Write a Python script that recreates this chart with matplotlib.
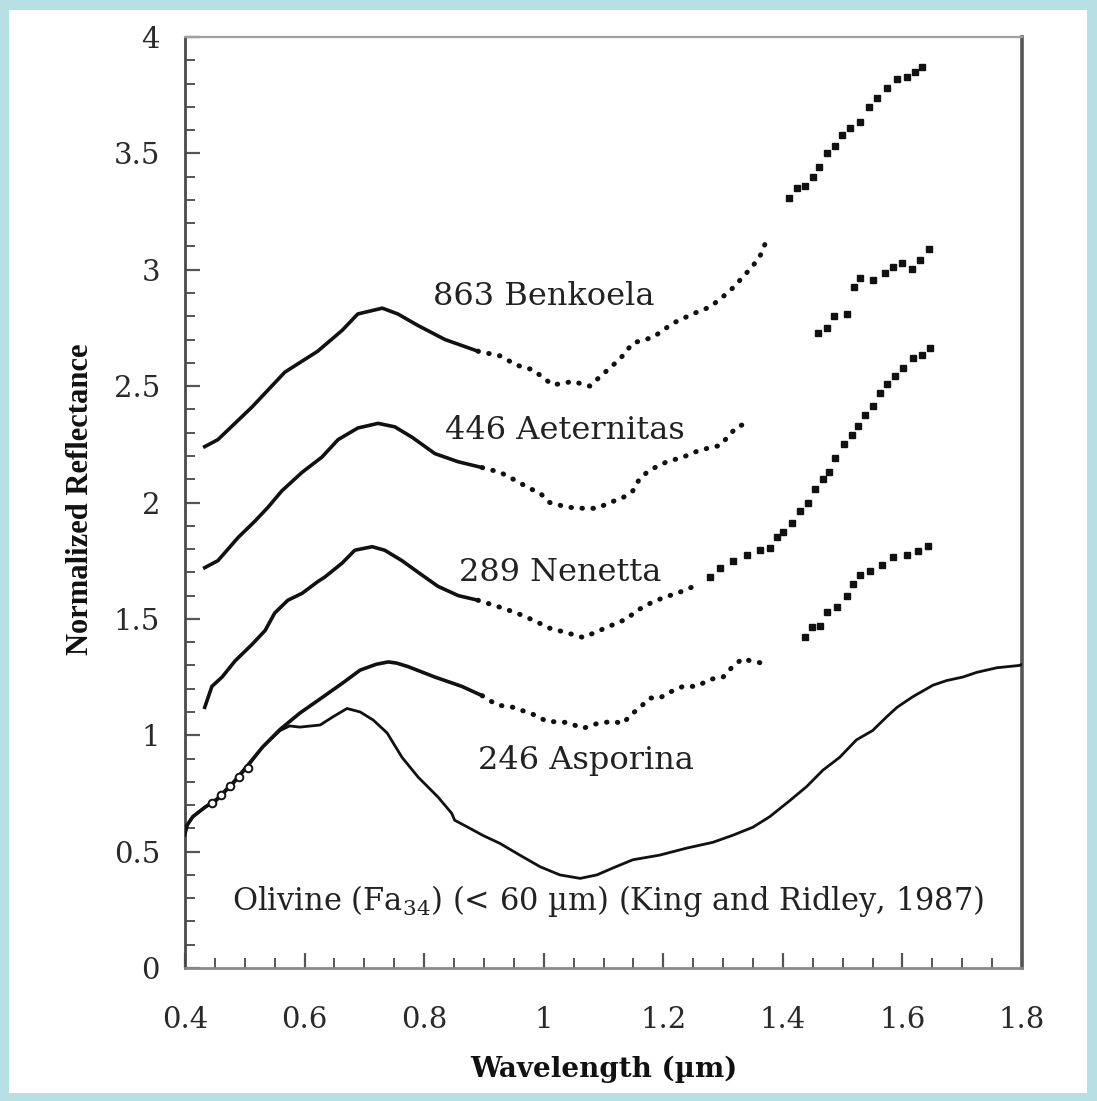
import matplotlib
matplotlib.use("Agg")
import matplotlib.pyplot as plt
from matplotlib.patches import Rectangle
from matplotlib.ticker import MultipleLocator, FixedLocator
import numpy as np

# ---------------- data ----------------
olivine_wl = [0.400, 0.405, 0.413, 0.433, 0.453, 0.480, 0.503, 0.530, 0.559, 0.575,
              0.592, 0.626, 0.648, 0.671, 0.693, 0.715, 0.738, 0.763, 0.790, 0.823,
              0.846, 0.851, 0.873, 0.898, 0.927, 0.960, 0.994, 1.027, 1.061, 1.089,
              1.116, 1.149, 1.194, 1.239, 1.283, 1.316, 1.350, 1.378, 1.412, 1.440,
              1.467, 1.495, 1.523, 1.550, 1.574, 1.591, 1.617, 1.651, 1.674, 1.701,
              1.724, 1.758, 1.796, 1.800]
olivine_r = [0.57, 0.62, 0.65, 0.69, 0.72, 0.79, 0.86, 0.95, 1.02, 1.04,
             1.035, 1.044, 1.08, 1.115, 1.10, 1.065, 1.01, 0.905, 0.82, 0.735,
             0.665, 0.635, 0.605, 0.57, 0.535, 0.485, 0.435, 0.40, 0.385, 0.40,
             0.43, 0.465, 0.485, 0.515, 0.54, 0.57, 0.605, 0.65, 0.72, 0.78,
             0.85, 0.905, 0.98, 1.02, 1.08, 1.12, 1.165, 1.215, 1.235, 1.25,
             1.27, 1.29, 1.30, 1.305]

asporina_wl = [0.400, 0.413, 0.433, 0.453, 0.480, 0.503, 0.530, 0.559, 0.592, 0.631,
               0.664, 0.693, 0.720, 0.740, 0.754, 0.773, 0.788, 0.818, 0.863, 0.897,
               0.922, 0.949, 0.982, 1.005, 1.039, 1.066, 1.089, 1.116, 1.132, 1.147,
               1.161, 1.178, 1.194, 1.211, 1.233, 1.256, 1.278, 1.300, 1.316, 1.333,
               1.345, 1.365]
asporina_r = [0.60, 0.65, 0.69, 0.725, 0.795, 0.865, 0.95, 1.025, 1.095, 1.165,
              1.225, 1.28, 1.305, 1.315, 1.31, 1.295, 1.28, 1.25, 1.21, 1.17,
              1.13, 1.12, 1.09, 1.06, 1.055, 1.03, 1.05, 1.06, 1.05, 1.09,
              1.12, 1.16, 1.16, 1.185, 1.21, 1.21, 1.24, 1.25, 1.295, 1.33,
              1.32, 1.31]
asporina_ir_wl = [1.437, 1.448, 1.462, 1.474, 1.490, 1.507, 1.517, 1.529, 1.545, 1.565,
                  1.584, 1.607, 1.626, 1.643]
asporina_ir_r = [1.42, 1.465, 1.47, 1.53, 1.55, 1.60, 1.65, 1.69, 1.705, 1.73,
                 1.765, 1.775, 1.79, 1.815]
asporina_circ_wl = [0.445, 0.460, 0.475, 0.490, 0.505]
asporina_circ_r = [0.71, 0.745, 0.78, 0.82, 0.86]

nenetta_wl = [0.433, 0.445, 0.462, 0.484, 0.512, 0.534, 0.550, 0.572, 0.596, 0.622,
              0.634, 0.663, 0.684, 0.713, 0.734, 0.763, 0.790, 0.823, 0.857, 0.890,
              0.927, 0.955, 0.982, 1.010, 1.039, 1.066, 1.089, 1.116, 1.139, 1.153,
              1.172, 1.199, 1.228, 1.256]
nenetta_r = [1.12, 1.21, 1.25, 1.32, 1.39, 1.45, 1.525, 1.58, 1.61, 1.66,
             1.68, 1.74, 1.795, 1.81, 1.795, 1.75, 1.70, 1.64, 1.60, 1.58,
             1.55, 1.525, 1.495, 1.46, 1.44, 1.42, 1.445, 1.475, 1.50, 1.53,
             1.56, 1.59, 1.615, 1.645]
nenetta_ir_wl = [1.278, 1.295, 1.316, 1.340, 1.362, 1.378, 1.390, 1.400, 1.415, 1.428,
                 1.442, 1.453, 1.467, 1.478, 1.488, 1.503, 1.516, 1.525, 1.537, 1.550,
                 1.562, 1.574, 1.587, 1.601, 1.617, 1.632, 1.646]
nenetta_ir_r = [1.68, 1.72, 1.75, 1.775, 1.795, 1.805, 1.85, 1.875, 1.91, 1.965,
                2.00, 2.06, 2.10, 2.13, 2.19, 2.25, 2.29, 2.33, 2.375, 2.415,
                2.47, 2.51, 2.545, 2.58, 2.62, 2.635, 2.665]

aeternitas_wl = [0.433, 0.455, 0.489, 0.517, 0.539, 0.562, 0.596, 0.629, 0.656, 0.689,
                 0.723, 0.751, 0.780, 0.818, 0.857, 0.897, 0.927, 0.949, 0.977, 0.994,
                 1.010, 1.039, 1.066, 1.089, 1.111, 1.132, 1.149, 1.161, 1.178, 1.206,
                 1.233, 1.261, 1.295, 1.323, 1.345]
aeternitas_r = [1.72, 1.75, 1.85, 1.92, 1.98, 2.05, 2.13, 2.195, 2.27, 2.32,
                2.34, 2.325, 2.28, 2.21, 2.175, 2.15, 2.13, 2.10, 2.06, 2.04,
                2.00, 1.98, 1.975, 1.975, 2.00, 2.02, 2.05, 2.105, 2.14, 2.175,
                2.195, 2.225, 2.245, 2.325, 2.345]
aeternitas_ir_wl = [1.459, 1.474, 1.485, 1.507, 1.519, 1.529, 1.551, 1.571, 1.584, 1.599,
                    1.616, 1.629, 1.644]
aeternitas_ir_r = [2.73, 2.75, 2.80, 2.81, 2.925, 2.965, 2.955, 2.985, 3.01, 3.03,
                   3.005, 3.04, 3.09]

benkoela_wl = [0.433, 0.455, 0.512, 0.567, 0.622, 0.663, 0.689, 0.730, 0.756, 0.790,
               0.835, 0.890, 0.927, 0.955, 0.982, 1.015, 1.049, 1.077, 1.094, 1.116,
               1.132, 1.149, 1.183, 1.216, 1.249, 1.278, 1.298, 1.311, 1.320, 1.333,
               1.348, 1.362, 1.375]
benkoela_r = [2.24, 2.27, 2.41, 2.56, 2.65, 2.74, 2.81, 2.835, 2.81, 2.76,
              2.70, 2.65, 2.63, 2.59, 2.57, 2.505, 2.52, 2.50, 2.54, 2.59,
              2.63, 2.685, 2.71, 2.77, 2.81, 2.84, 2.88, 2.91, 2.93, 2.97,
              3.01, 3.06, 3.14]
benkoela_ir_wl = [1.410, 1.423, 1.437, 1.450, 1.460, 1.474, 1.487, 1.499, 1.512, 1.529,
                  1.544, 1.557, 1.574, 1.591, 1.607, 1.621, 1.632]
benkoela_ir_r = [3.31, 3.35, 3.36, 3.40, 3.44, 3.50, 3.53, 3.58, 3.61, 3.635,
                 3.70, 3.74, 3.78, 3.82, 3.83, 3.85, 3.87]

labels = ["863 Benkoela", "446 Aeternitas", "289 Nenetta", "246 Asporina"]
label_pos = [(1.000, 2.885), (1.036, 2.31), (1.028, 1.70), (1.070, 0.89)]
olivine_label = "Olivine (Fa$_{34}$) (< 60 µm) (King and Ridley, 1987)"
olivine_label_pos = (1.107, 0.29)

xticks = [0.4, 0.6, 0.8, 1.0, 1.2, 1.4, 1.6, 1.8]
xticklabels = ["0.4", "0.6", "0.8", "1", "1.2", "1.4", "1.6", "1.8"]
yticks = [0, 0.5, 1, 1.5, 2, 2.5, 3, 3.5, 4]
yticklabels = ["0", "0.5", "1", "1.5", "2", "2.5", "3", "3.5", "4"]

# ---------------- figure ----------------
plt.rcParams['mathtext.fontset'] = 'dejavuserif'
W, H = 1097, 1101
fig = plt.figure(figsize=(W / 100, H / 100), dpi=100)
fig.patch.set_facecolor('#b8dfe3')
fig.add_artist(Rectangle((9 / W, 8 / H), (W - 19) / W, (H - 18) / H,
                         transform=fig.transFigure, facecolor='white',
                         edgecolor='none', zorder=-5))

ax = fig.add_axes([185 / W, 133 / H, 837 / W, 931 / H])
ax.set_xlim(0.4, 1.8)
ax.set_ylim(0, 4)

INK = '#111111'


def split_plot(wl, r, cut=0.9):
    wl = np.asarray(wl)
    r = np.asarray(r)
    m1 = wl <= cut
    ax.plot(wl[m1], r[m1], color=INK, lw=2.6, solid_joinstyle='round', zorder=3)
    m2 = wl >= wl[m1][-1]
    ax.plot(wl[m2], r[m2], color=INK, lw=3.6, linestyle=(0, (0.1, 2.1)),
            dash_capstyle='round', zorder=3)


def ir_plot(wl, r):
    ax.plot(wl, r, linestyle='none', marker='s', ms=4.0, color=INK, zorder=3)


ax.plot(olivine_wl, olivine_r, color=INK, lw=2.0, zorder=3)
split_plot(asporina_wl, asporina_r)
ir_plot(asporina_ir_wl, asporina_ir_r)
ax.plot(asporina_circ_wl, asporina_circ_r, linestyle='none', marker='o', ms=5.5,
        mfc='white', mec=INK, mew=1.4, zorder=4)
split_plot(nenetta_wl, nenetta_r)
ir_plot(nenetta_ir_wl, nenetta_ir_r)
split_plot(aeternitas_wl, aeternitas_r)
ir_plot(aeternitas_ir_wl, aeternitas_ir_r)
split_plot(benkoela_wl, benkoela_r)
ir_plot(benkoela_ir_wl, benkoela_ir_r)

for t, (x, y) in zip(labels, label_pos):
    ax.text(x, y, t, family='DejaVu Serif', fontsize=23, color='#222222',
            ha='center', va='center')
ax.text(olivine_label_pos[0], olivine_label_pos[1], olivine_label,
        family='DejaVu Serif', fontsize=22, color='#222222', ha='center', va='center')

# ticks
ax.xaxis.set_major_locator(FixedLocator(xticks))
ax.set_xticklabels(xticklabels)
ax.xaxis.set_minor_locator(MultipleLocator(0.05))
ax.yaxis.set_major_locator(FixedLocator(yticks))
ax.set_yticklabels(yticklabels)
ax.yaxis.set_minor_locator(MultipleLocator(0.1))

ax.tick_params(axis='both', which='both', direction='in', top=False, right=False,
               colors='#555555')
ax.tick_params(axis='x', which='major', length=11, width=1.6, pad=27,
               labelsize=21, labelcolor='#2a2a2a')
ax.tick_params(axis='x', which='minor', length=7, width=1.4)
ax.tick_params(axis='y', which='major', length=11, width=1.6, pad=18,
               labelsize=21, labelcolor='#2a2a2a')
ax.tick_params(axis='y', which='minor', length=7, width=1.4)
for lab in ax.get_xticklabels() + ax.get_yticklabels():
    lab.set_family('DejaVu Serif')

ax.spines['left'].set_color('#4a4a4a')
ax.spines['left'].set_linewidth(2.0)
ax.spines['right'].set_color('#555555')
ax.spines['right'].set_linewidth(2.6)
ax.spines['top'].set_color('#a0a0a0')
ax.spines['top'].set_linewidth(1.6)
ax.spines['bottom'].set_color('#8a8a8a')
ax.spines['bottom'].set_linewidth(2.0)

ax.set_xlabel("Wavelength (µm)", family='DejaVu Serif', fontweight='bold',
              fontsize=20, color='#111111')
ax.xaxis.set_label_coords(0.5, -0.094)
ax.set_ylabel("Normalized Reflectance", family='Liberation Serif', fontweight='bold',
              fontsize=22, color='#111111')
ax.yaxis.set_label_coords(-0.108, 0.503)

fig.savefig("out.png", dpi=100, facecolor=fig.get_facecolor())
